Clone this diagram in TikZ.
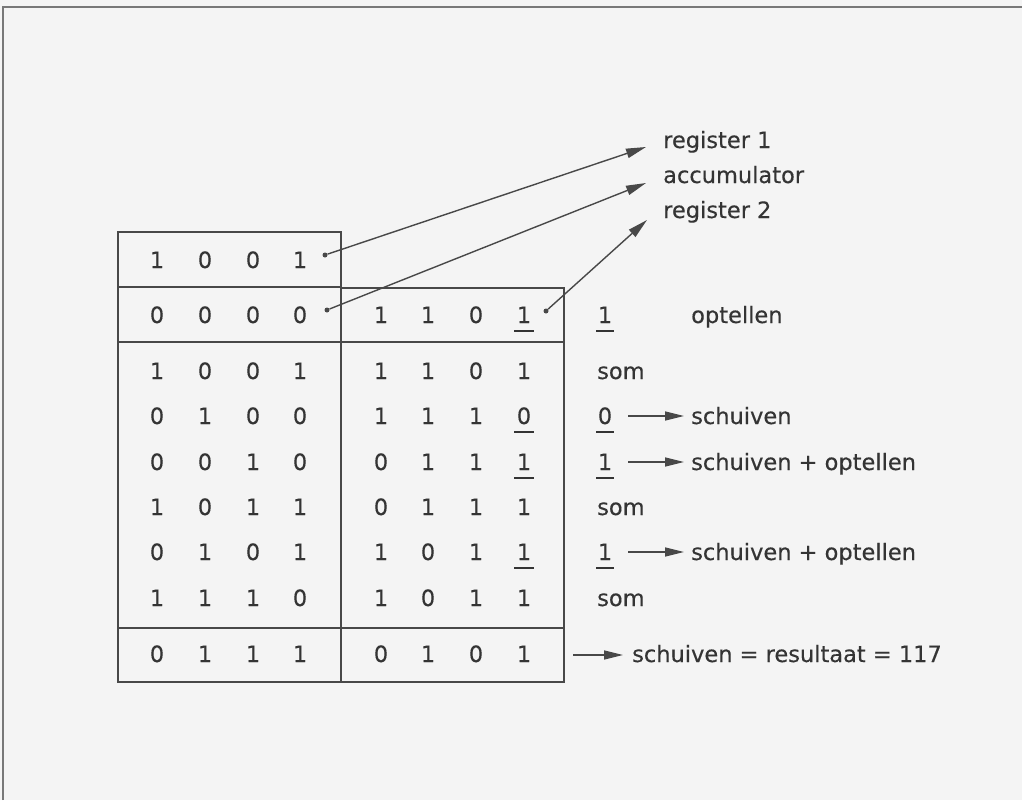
\documentclass[tikz,border=0pt]{standalone}
\usepackage{fontspec}
\setmainfont[FakeBold=0.3]{DejaVu Sans}
\usetikzlibrary{arrows.meta}
\definecolor{bg}{RGB}{244,244,244}
\definecolor{ink}{RGB}{52,52,52}
\definecolor{lin}{RGB}{72,72,72}
\definecolor{frm}{RGB}{120,120,120}
\tikzset{
  txt/.style={inner sep=0pt, text=ink, font=\fontsize{22.5}{26}\selectfont},
  dig/.style={txt, anchor=base},
  lbl/.style={txt, anchor=base west},
  tbox/.style={draw=lin, line width=1.7pt},
  ul/.style={draw=ink, line width=1.5pt},
  arrL/.style={draw=lin, line width=1.4pt, -{Triangle[length=20pt,width=9.5pt]}},
  arrS/.style={draw=lin, line width=1.4pt, -{Triangle[length=19pt,width=9pt]}},
  dotn/.style={circle, fill=lin, inner sep=0pt, minimum size=5pt},
}
\begin{document}
\begin{tikzpicture}[x=1pt,y=-1pt]
\fill[bg] (0,0) rectangle (1022,800);
\useasboundingbox (0,0) rectangle (1022,800);
% frame
\draw[frm, line width=1.4pt] (3,800) -- (3,7) -- (1022,7);
% table
\draw[tbox] (118,232) rectangle (341,682);
\draw[tbox] (341,288) rectangle (564,682);
\draw[tbox] (118,287) -- (341,287);
\draw[tbox] (118,342) -- (564,342);
\draw[tbox] (118,628) -- (564,628);
% left column digits
\foreach \r/\y/\a/\b/\c/\d in {1/268/1/0/0/1, 2/323/0/0/0/0, 3/379/1/0/0/1, 4/424/0/1/0/0, 5/470/0/0/1/0, 6/515/1/0/1/1, 7/560/0/1/0/1, 8/606/1/1/1/0, 9/662/0/1/1/1}{
  \node[dig] (L\r a) at (157,\y) {\a};
  \node[dig] (L\r b) at (205,\y) {\b};
  \node[dig] (L\r c) at (253,\y) {\c};
  \node[dig] (L\r d) at (300,\y) {\d};
}
% right column digits
\foreach \r/\y/\a/\b/\c/\d in {2/323/1/1/0/1, 3/379/1/1/0/1, 4/424/1/1/1/0, 5/470/0/1/1/1, 6/515/0/1/1/1, 7/560/1/0/1/1, 8/606/1/0/1/1, 9/662/0/1/0/1}{
  \node[dig] (R\r a) at (381,\y) {\a};
  \node[dig] (R\r b) at (428,\y) {\b};
  \node[dig] (R\r c) at (476,\y) {\c};
  \node[dig] (R\r d) at (524,\y) {\d};
}
\foreach \n in {R2d,R4d,R5d,R7d}{
  \draw[ul] ([xshift=-10pt,yshift=-8pt]\n.base) -- ([xshift=10pt,yshift=-8pt]\n.base);
}
% pointer dots
\node[dotn] (p1) at (325,255) {};
\node[dotn] (p2) at (327,310) {};
\node[dotn] (p3) at (546,311) {};
% top labels
\node[lbl] (reg1) at (663,148) {register 1};
\node[lbl] (acc) at (663,183) {accumulator};
\node[lbl] (reg2) at (663,218) {register 2};
\draw[arrL] (p1) -- ([xshift=-17pt,yshift=1pt]reg1.base west);
\draw[arrL] (p2) -- ([xshift=-17pt]acc.base west);
\draw[arrL] (p3) -- ([xshift=-16pt,yshift=-2pt]reg2.base west);
% right annotations
\node[dig] (o2) at (605,323) {1};
\node[lbl] (t2) at (691,323) {optellen};
\node[lbl] (s3) at (597,379) {som};
\node[dig] (o4) at (605,424) {0};
\node[lbl] (t4) at (691,424) {schuiven};
\node[dig] (o5) at (605,470) {1};
\node[lbl] (t5) at (691,470) {schuiven + optellen};
\node[lbl] (s6) at (597,515) {som};
\node[dig] (o7) at (605,560) {1};
\node[lbl] (t7) at (691,560) {schuiven + optellen};
\node[lbl] (s8) at (597,606) {som};
\node[lbl] (t9) at (632,662) {schuiven = resultaat = 117};
\foreach \n in {o2,o4,o5,o7}{
  \draw[ul] ([xshift=-9pt,yshift=-8pt]\n.base) -- ([xshift=9pt,yshift=-8pt]\n.base);
}
\foreach \a/\b in {o4/t4, o5/t5, o7/t7}{
  \draw[arrS] ([xshift=16pt,yshift=8pt]\a.base east) -- ([xshift=-7pt,yshift=8pt]\b.base west);
}
\coordinate (c9) at (573,655);
\draw[arrS] (c9) -- ([xshift=-9pt]t9.base west |- c9);
\end{tikzpicture}
\end{document}
